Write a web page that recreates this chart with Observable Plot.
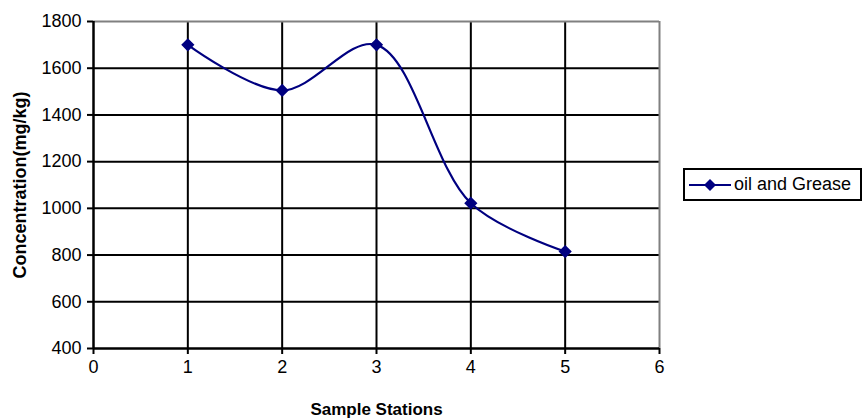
<!DOCTYPE html>
<html>
<head>
<meta charset="utf-8">
<script src="https://cdn.jsdelivr.net/npm/d3@7"></script>
<script src="https://cdn.jsdelivr.net/npm/@observablehq/plot@0.6"></script>
<style>
  html, body { margin: 0; padding: 0; background: #fff; }
  #wrap { position: relative; width: 862px; height: 419px; font-family: Arial, "Liberation Sans", sans-serif; }
  #legend { position: absolute; left: 683px; top: 168px; width: 175px; height: 29px; border: 2px solid #000; background: #fff;
            display: flex; align-items: center; font-size: 18px; color: #000; }
  #legend svg { margin-left: 4px; margin-right: 3px; }
</style>
</head>
<body>
<div id="wrap"></div>
<script>
const stations = [1, 2, 3, 4, 5];
const concentration = [1700, 1505, 1700, 1022, 815];
const xTicks = [0, 1, 2, 3, 4, 5, 6];
const yTicks = [400, 600, 800, 1000, 1200, 1400, 1600, 1800];
const seriesName = "oil and Grease";
const xTitle = "Sample Stations";
const yTitle = "Concentration(mg/kg)";

const data = stations.map((s, i) => ({x: s, y: concentration[i]}));
const navy = "#000080";

const chart = Plot.plot({
  width: 862,
  height: 419,
  marginLeft: 93,
  marginRight: 203,
  marginTop: 21,
  marginBottom: 71,
  style: {fontFamily: "Arial, 'Liberation Sans', sans-serif", fontSize: "18px", color: "#000", background: "#fff"},
  x: {domain: [0, 6]},
  y: {domain: [400, 1800]},
  marks: [
    Plot.ruleY(yTicks.filter(v => v > 400 && v < 1800), {stroke: "#000", strokeWidth: 2}),
    Plot.ruleX(xTicks.filter(v => v > 0 && v < 6), {stroke: "#000", strokeWidth: 2}),
    Plot.ruleY([1800], {stroke: "#808080", strokeWidth: 2}),
    Plot.ruleX([6], {stroke: "#808080", strokeWidth: 2}),
    Plot.ruleY([400], {stroke: "#000", strokeWidth: 2.5}),
    Plot.ruleX([0], {stroke: "#000", strokeWidth: 2.5}),
    Plot.axisY({ticks: yTicks, tickSize: 6, tickPadding: 6, tickFormat: d => String(d), label: null, strokeWidth: 2, fontSize: 18}),
    Plot.axisX({ticks: xTicks, tickSize: 6, tickPadding: 6, tickFormat: d => String(d), label: null, strokeWidth: 2, fontSize: 18}),
    Plot.text([yTitle], {frameAnchor: "left", dx: -73, rotate: -90, textAnchor: "middle", fontWeight: "bold", fontSize: 18}),
    Plot.text([xTitle], {x: 3, y: 400, dy: 61, fontWeight: "bold", fontSize: 17}),
    Plot.line(data, {x: "x", y: "y", stroke: navy, strokeWidth: 2.2, curve: "catmull-rom"}),
    Plot.dot(data, {x: "x", y: "y", symbol: "diamond2", r: 5, fill: navy, stroke: navy})
  ]
});

const wrap = document.getElementById("wrap");
wrap.appendChild(chart);

const legend = document.createElement("div");
legend.id = "legend";
legend.innerHTML = `<svg width="42" height="16"><line x1="0" y1="8" x2="42" y2="8" stroke="${navy}" stroke-width="2.2"/><path d="M21,2 L27,8 L21,14 L15,8 Z" fill="${navy}"/></svg><span>${seriesName}</span>`;
wrap.appendChild(legend);
</script>
</body>
</html>
